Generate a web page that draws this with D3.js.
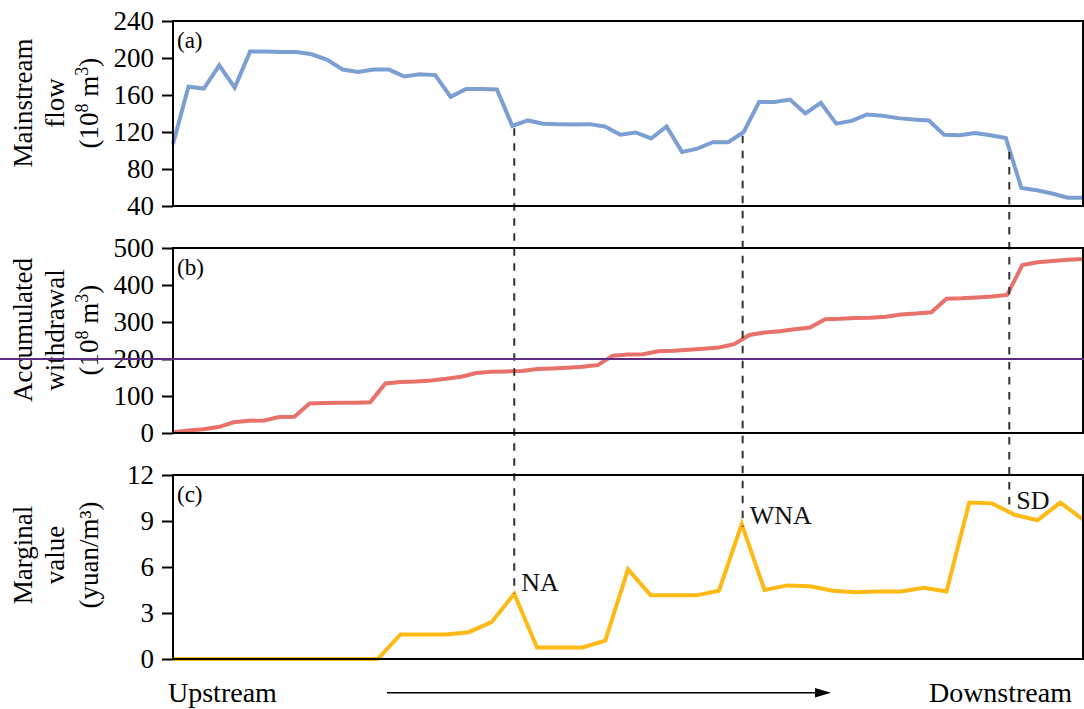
<!DOCTYPE html>
<html>
<head>
<meta charset="utf-8">
<script src="https://cdn.jsdelivr.net/npm/d3@7"></script>
<style>
  html, body { margin: 0; padding: 0; background: #fff; }
  svg { display: block; font-family: "Liberation Serif", "Times New Roman", serif; }
</style>
</head>
<body>
<svg id="chart" width="1084" height="709"></svg>
<script>
// Mainstream flow along the river (10^8 m^3), upstream -> downstream
const flow = [107, 169, 167, 192, 168, 207, 207, 206.5, 206.5, 204, 198, 187.5, 185, 187.5, 187.5,
  180, 182.5, 181.5, 158, 166.5, 166.5, 166, 126.5, 132.5, 129, 128.5, 128, 128.5, 126, 117,
  119.5, 113, 126, 98.5, 102, 109, 109, 120, 152.5, 152.5, 155, 140, 151.5, 129, 132,
  139, 137.5, 135, 133.5, 132.5, 117, 116.5, 119, 116.5, 113.5, 59.5, 57, 53.5, 49, 49];

// Accumulated withdrawal (10^8 m^3)
const withdrawal = [2, 7, 10, 16, 29, 33, 34, 43, 44, 80, 81, 81.5, 82, 83, 134, 138, 139, 142,
  146.5, 152, 162, 165.5, 166.5, 167.5, 173, 174.5, 176.5, 179, 183.5, 209, 212, 213, 221,
  222.5, 225, 228, 231, 240, 265, 271.5, 275, 280.5, 285, 307.5, 308.5, 310.5, 311.5, 314,
  320.5, 323, 326.5, 363, 364, 366.5, 369, 373, 454, 461.5, 465, 468, 470];

// Marginal value of water (yuan/m³)
const marginal = [0, 0, 0, 0, 0, 0, 0, 0, 0, 0, 1.6, 1.6, 1.6, 1.75, 2.4, 4.25, 0.75, 0.75, 0.75,
  1.2, 5.85, 4.15, 4.15, 4.15, 4.45, 8.8, 4.5, 4.8, 4.75, 4.45, 4.35, 4.4, 4.4, 4.65, 4.4,
  10.2, 10.15, 9.4, 9.05, 10.2, 9.1];

// Reference level for accumulated withdrawal
const withdrawalRef = 200;

// Region boundaries (relative position along the stream)
const regionNames = ["NA", "WNA", "SD"];
const regionPos = [0.375, 0.626, 0.919];

// Axis ticks
const flowTicks = [40, 80, 120, 160, 200, 240];
const withdrawalTicks = [0, 100, 200, 300, 400, 500];
const marginalTicks = [0, 3, 6, 9, 12];

const COLORS = { flow: "#7b9fd2", withdrawal: "#e8716b", marginal: "#ffb914", ref: "#5c2d82" };

const svg = d3.select("#chart");
const x = d3.scaleLinear().domain([0, 1]).range([173, 1083]);

const panels = [
  { key: "a", data: flow, ticks: flowTicks, domain: [40, 240], range: [206, 21], color: COLORS.flow,
    title: [["Mainstream"], ["flow"], ["(10", ["8"], " m", ["3"], ")"]], titleY: 103 },
  { key: "b", data: withdrawal, ticks: withdrawalTicks, domain: [0, 500], range: [433, 248], color: COLORS.withdrawal,
    title: [["Accumulated"], ["withdrawal"], ["(10", ["8"], " m", ["3"], ")"]], titleY: 330 },
  { key: "c", data: marginal, ticks: marginalTicks, domain: [0, 12], range: [659, 475], color: COLORS.marginal,
    title: [["Marginal"], ["value"], ["(yuan/m³)"]], titleY: 555 }
];
panels.forEach(p => { p.y = d3.scaleLinear().domain(p.domain).range(p.range); });

// value of a series at relative position t (linear between stations)
function valueAt(arr, t) {
  const p = t * (arr.length - 1);
  const i = Math.min(Math.floor(p), arr.length - 2);
  const f = p - i;
  return arr[i] * (1 - f) + arr[i + 1] * f;
}

// Series lines
panels.forEach(p => {
  const n = p.data.length;
  const line = d3.line()
    .x((d, i) => x(i / (n - 1)))
    .y(d => p.y(d))
    .curve(d3.curveLinear);
  svg.append("path")
    .datum(p.data)
    .attr("d", line)
    .attr("fill", "none")
    .attr("stroke", p.color)
    .attr("stroke-width", 4)
    .attr("stroke-linejoin", "miter");
});

// Region boundary markers spanning from the flow curve down to the marginal value curve
const pa = panels[0], pc = panels[2];
regionPos.forEach((t, k) => {
  const xx = x(t);
  const y1 = pa.y(valueAt(flow, t));
  const y2 = pc.y(valueAt(marginal, t));
  svg.append("line")
    .attr("x1", xx).attr("x2", xx)
    .attr("y1", y1 + 3).attr("y2", y2)
    .attr("stroke", "#333")
    .attr("stroke-width", 2)
    .attr("stroke-dasharray", "7.5,7.5");
  svg.append("text")
    .attr("x", xx + 7)
    .attr("y", y2 - 3)
    .attr("font-size", 26)
    .attr("fill", "#111")
    .text(regionNames[k]);
});

// Frames, axes, titles and panel tags
panels.forEach(p => {
  const [yb, yt] = p.range;
  svg.append("rect")
    .attr("x", x.range()[0]).attr("y", yt)
    .attr("width", x.range()[1] - x.range()[0]).attr("height", yb - yt)
    .attr("fill", "none").attr("stroke", "#000").attr("stroke-width", 2);

  const ax = svg.append("g")
    .attr("transform", `translate(${x.range()[0]},0)`)
    .call(d3.axisLeft(p.y).tickValues(p.ticks).tickSize(11).tickSizeOuter(0).tickPadding(8).tickFormat(d3.format("d")));
  ax.select(".domain").remove();
  ax.selectAll(".tick line").attr("stroke", "#000").attr("stroke-width", 2);
  ax.selectAll(".tick text")
    .attr("font-family", "Liberation Serif, Times New Roman, serif")
    .attr("font-size", 27)
    .attr("fill", "#000");

  svg.append("text")
    .attr("x", 177).attr("y", yt + 27)
    .attr("font-size", 23)
    .attr("fill", "#000")
    .text(`(${p.key})`);

  // three-line rotated axis title
  const baselines = [32, 64, 98];
  p.title.forEach((parts, li) => {
    const t = svg.append("text")
      .attr("transform", `translate(${baselines[li]},${p.titleY}) rotate(-90)`)
      .attr("text-anchor", "middle")
      .attr("font-size", 27)
      .attr("fill", "#000");
    parts.forEach(part => {
      if (Array.isArray(part)) {
        t.append("tspan").attr("font-size", 18).attr("baseline-shift", "10").text(part[0]);
      } else {
        t.append("tspan").text(part);
      }
    });
  });
});

// Reference line across panel (b)
const pb = panels[1];
svg.append("line")
  .attr("x1", 0).attr("x2", 1084)
  .attr("y1", pb.y(withdrawalRef)).attr("y2", pb.y(withdrawalRef))
  .attr("stroke", COLORS.ref)
  .attr("stroke-width", 2);

// Flow direction
svg.append("text").attr("x", 168).attr("y", 702).attr("font-size", 28).attr("fill", "#000").text("Upstream");
svg.append("text").attr("x", 1072).attr("y", 702).attr("text-anchor", "end").attr("font-size", 28).attr("fill", "#000").text("Downstream");
svg.append("line")
  .attr("x1", 387).attr("x2", 816).attr("y1", 692.7).attr("y2", 692.7)
  .attr("stroke", "#000").attr("stroke-width", 1.4);
svg.append("path")
  .attr("d", "M831,692.7 L815,688 L815,697.4 Z")
  .attr("fill", "#000");
</script>
</body>
</html>
